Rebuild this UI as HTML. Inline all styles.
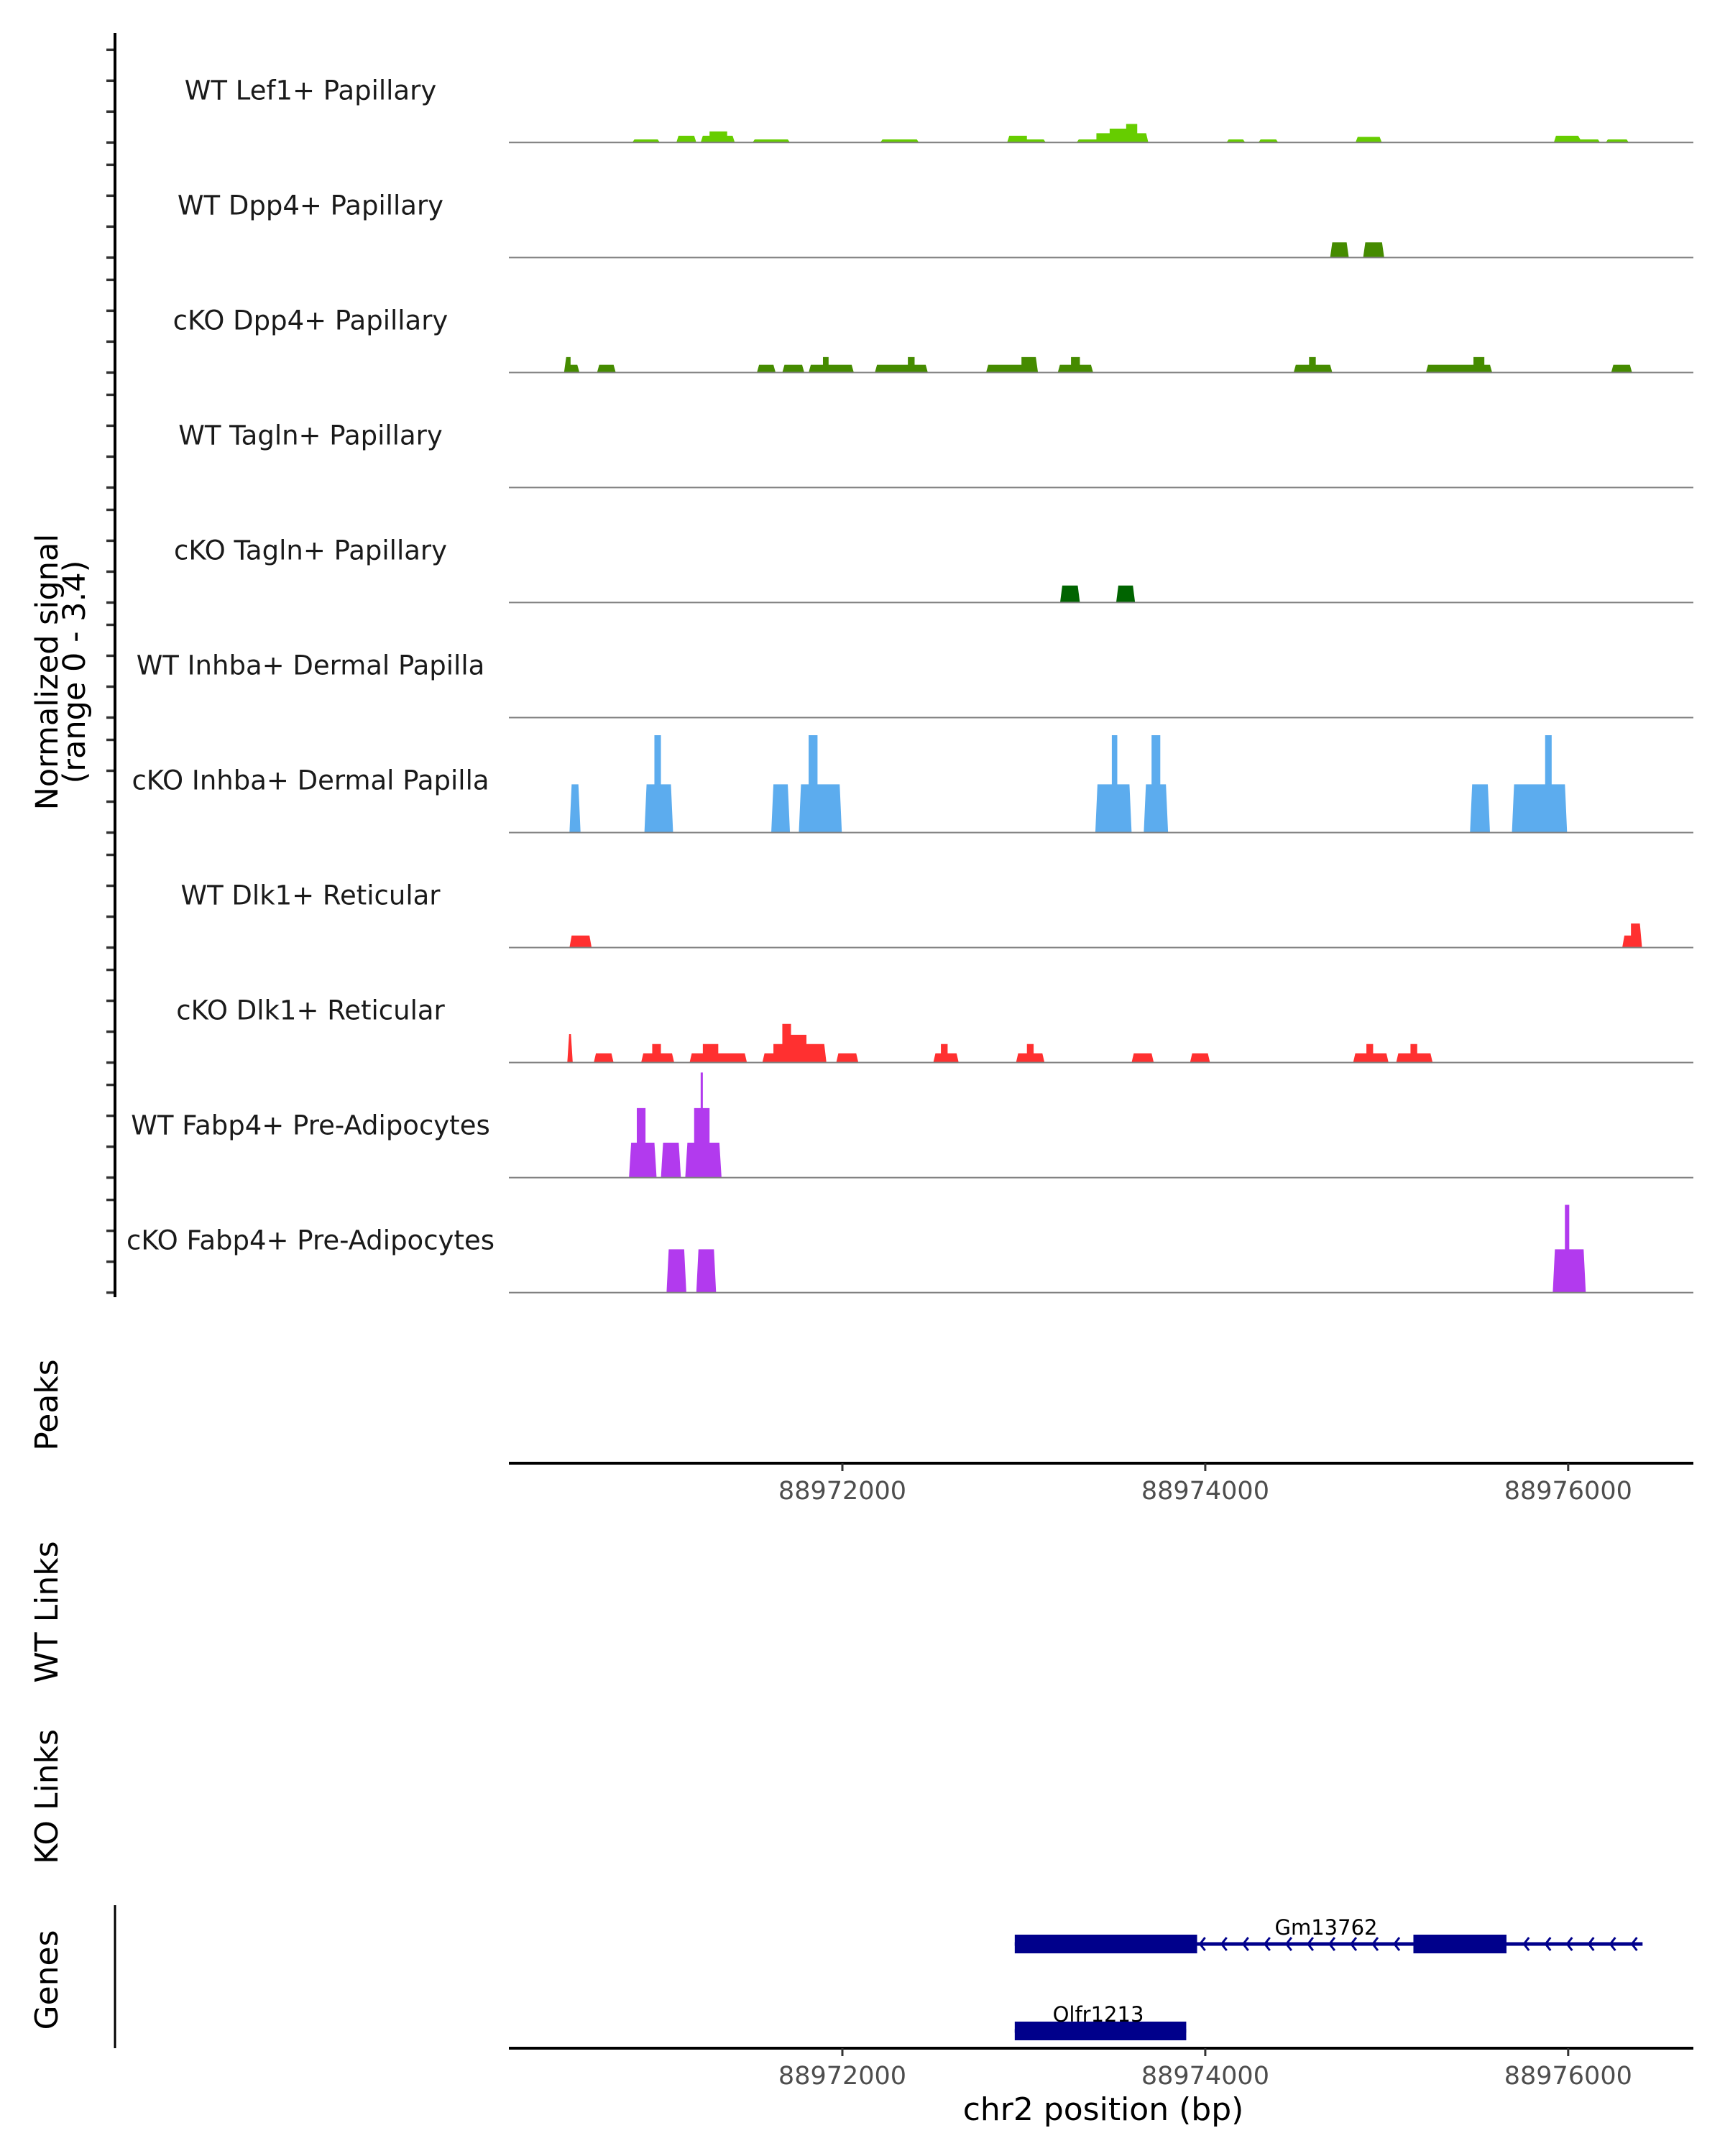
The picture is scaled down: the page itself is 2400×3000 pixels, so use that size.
<!DOCTYPE html>
<html><head><meta charset="utf-8"><style>
html,body{margin:0;padding:0;background:#fff;}
svg{display:block;font-family:"DejaVu Sans","Liberation Sans",sans-serif;}
</style></head><body>
<svg id="chart" width="2400" height="3000" viewBox="0 0 2400 3000" xmlns="http://www.w3.org/2000/svg">
<g id="tracks"></g>
<g id="axes"></g>
<g id="genes"></g>
</svg>
<script>
// ---------- data ----------
const trackNames = ["WT Lef1+ Papillary","WT Dpp4+ Papillary","cKO Dpp4+ Papillary","WT Tagln+ Papillary","cKO Tagln+ Papillary","WT Inhba+ Dermal Papilla","cKO Inhba+ Dermal Papilla","WT Dlk1+ Reticular","cKO Dlk1+ Reticular","WT Fabp4+ Pre-Adipocytes","cKO Fabp4+ Pre-Adipocytes"];
const trackColors = ["#66cd00","#458b00","#458b00","#006400","#006400","#5cacee","#5cacee","#ff3030","#ff3030","#b23aee","#b23aee"];
const yMax = 3.4;
const yTicks = [0,1,2,3];
const xTicks = [88972000,88974000,88976000];
// segments: [start bp, end bp, signal]
const sigLef1WT = [[88970842,88970994,.1],[88971085,88971195,.22],[88971219,88971268,.22],[88971268,88971365,.36],[88971365,88971407,.22],[88971505,88971711,.1],[88972209,88972422,.1],[88972908,88973017,.22],[88973017,88973121,.1],[88973291,88973400,.1],[88973400,88973473,.3],[88973473,88973564,.45],[88973564,88973625,.6],[88973625,88973686,.3],[88974117,88974220,.1],[88974293,88974402,.1],[88974828,88974973,.18],[88975921,88976055,.22],[88976067,88976176,.1],[88976207,88976334,.1]];
const sigDpp4WT = [[88974688,88974791,.49],[88974870,88974986,.49]];
const sigDpp4KO = [[88970466,88970502,.5],[88970502,88970551,.25],[88970648,88970751,.25],[88971529,88971632,.25],[88971669,88971790,.25],[88971814,88971893,.25],[88971893,88971924,.5],[88971924,88972063,.25],[88972179,88972276,.25],[88972288,88972361,.25],[88972361,88972398,.5],[88972398,88972471,.25],[88972792,88972908,.25],[88972908,88972987,.25],[88972987,88973078,.5],[88973187,88973260,.25],[88973260,88973309,.5],[88973309,88973382,.25],[88974487,88974572,.25],[88974572,88974609,.5],[88974609,88974700,.25],[88975216,88975478,.25],[88975478,88975538,.5],[88975538,88975581,.25],[88976237,88976352,.25]];
const sigTaglnWT = [];
const sigTaglnKO = [[88973200,88973309,.55],[88973509,88973613,.55]];
const sigInhbaWT = [];
const sigInhbaKO = [[88970496,88970557,1.56],[88970909,88970964,1.56],[88970964,88971000,3.15],[88971000,88971067,1.56],[88971608,88971711,1.56],[88971760,88971814,1.56],[88971814,88971863,3.15],[88971863,88971997,1.56],[88973394,88973485,1.56],[88973485,88973515,3.15],[88973515,88973594,1.56],[88973661,88973704,1.56],[88973704,88973752,3.15],[88973752,88973795,1.56],[88975459,88975569,1.56],[88975690,88975873,1.56],[88975873,88975909,3.15],[88975909,88975994,1.56]];
const sigDlk1WT = [[88970496,88970618,.39],[88976298,88976346,.39],[88976346,88976407,.78]];
const sigDlk1KO = [[88970484,88970514,.92],[88970630,88970739,.3],[88970891,88970952,.3],[88970952,88971000,.6],[88971000,88971073,.3],[88971158,88971231,.3],[88971231,88971316,.6],[88971316,88971474,.3],[88971559,88971620,.3],[88971620,88971669,.6],[88971669,88971717,1.25],[88971717,88971802,.9],[88971802,88971912,.6],[88971966,88972088,.3],[88972501,88972543,.3],[88972543,88972580,.6],[88972580,88972641,.3],[88972957,88973017,.3],[88973017,88973054,.6],[88973054,88973114,.3],[88973594,88973716,.3],[88973916,88974026,.3],[88974815,88974888,.3],[88974888,88974925,.6],[88974925,88975010,.3],[88975052,88975131,.3],[88975131,88975168,.6],[88975168,88975253,.3]];
const sigFabp4WT = [[88970824,88970867,1.13],[88970867,88970915,2.25],[88970915,88970976,1.13],[88971000,88971110,1.13],[88971134,88971183,1.13],[88971183,88971219,2.25],[88971219,88971231,3.4],[88971231,88971268,2.25],[88971268,88971334,1.13]];
const sigFabp4KO = [[88971031,88971140,1.4],[88971195,88971304,1.4],[88975915,88975982,1.4],[88975982,88976006,2.84],[88976006,88976097,1.4]];
const trackSignals = [sigLef1WT,sigDpp4WT,sigDpp4KO,sigTaglnWT,sigTaglnKO,sigInhbaWT,sigInhbaKO,sigDlk1WT,sigDlk1KO,sigFabp4WT,sigFabp4KO];
const geneNames = ["Gm13762","Olfr1213"];
const geneStarts = [88972950,88972950];
const geneEnds = [88976410,88973895];
const geneExons = [[[88972950,88973955],[88975147,88975660]],[[88972950,88973895]]];

// ---------- layout ----------
const NS="http://www.w3.org/2000/svg";
const plotL=708, plotR=2356, domL=88970162, domR=88976690;
const xs = b => plotL + (b-domL)*(plotR-plotL)/(domR-domL);
const base0=198.3, trackH=160.03, pxPerUnit=43;
const ys = (i,v) => base0 + i*trackH - v*pxPerUnit;
function mk(tag, attrs, parent){const e=document.createElementNS(NS,tag);for(const k in attrs)e.setAttribute(k,attrs[k]);parent.appendChild(e);return e;}
const gT=document.getElementById('tracks'), gA=document.getElementById('axes'), gG=document.getElementById('genes');

trackNames.forEach((name,i)=>{
  const b=ys(i,0);
  const g=mk('g',{},gT);
  
  
  const t=mk('text',{x:432,y:b-60,'text-anchor':'middle','font-size':37,fill:'#1a1a1a'},g);
  t.textContent=name;
  
  
  const segs=trackSignals[i].slice().sort((a,c)=>a[0]-c[0]);
  const groups=[];
  segs.forEach(s=>{
    const last=groups[groups.length-1];
    if(last && s[0]-last[last.length-1][1] < 15) last.push(s); else groups.push([s]);
  });
  groups.forEach(gr=>{
    const pts=[];
    gr.forEach((s,k)=>{
      let x0=xs(s[0]), x1=xs(s[1]); const yt=ys(i,s[2]);
      const tp=Math.min(3,(x1-x0)/3);
      if(k===0){pts.push(`${x0},${b}`); x0+=tp;}
      if(k===gr.length-1){x1-=tp;}
      pts.push(`${x0},${yt}`); pts.push(`${x1},${yt}`);
      if(k===gr.length-1) pts.push(`${xs(s[1])},${b}`);
    });
    const p=mk('polygon',{points:pts.join(' '),fill:trackColors[i]},g);
    
    
  });
  const l=mk('line',{x1:plotL,x2:plotR,y1:b,y2:b,stroke:'#7f7f7f','stroke-width':2},g);
  
  
  yTicks.forEach(v=>{
    const tk=mk('line',{x1:148,x2:160,y1:ys(i,v),y2:ys(i,v),stroke:'#333','stroke-width':3.5},gA);
    
    
  });
});
let e=mk('line',{x1:160,x2:160,y1:46,y2:1805,stroke:'#000','stroke-width':4},gA);


e=mk('text',{transform:'translate(80,935) rotate(-90)','text-anchor':'middle','font-size':43,fill:'#000'},gA);
e.innerHTML='<tspan x="0" dy="0">Normalized signal</tspan><tspan x="0" dy="38">(range 0 - 3.4)</tspan>';


[["Peaks",1955],["WT Links",2243],["KO Links",2500],["Genes",2755]].forEach(([n,y])=>{
  const t=mk('text',{transform:`translate(80,${y}) rotate(-90)`,'text-anchor':'middle','font-size':44,fill:'#000'},gA);
  t.textContent=n;
  
  
});
[[2036,2086,'peaks-x-axis'],[2850,2900,'genes-x-axis']].forEach(([y,ly,nm])=>{
  const l=mk('line',{x1:plotL,x2:plotR,y1:y,y2:y,stroke:'#000','stroke-width':4},gA);
  
  
  xTicks.forEach(v=>{
    const tk=mk('line',{x1:xs(v),x2:xs(v),y1:y,y2:y+11,stroke:'#333','stroke-width':3},gA);
    
    
    const tl=mk('text',{x:xs(v),y:ly,'text-anchor':'middle','font-size':35,fill:'#4d4d4d'},gA);
    tl.textContent=v;
    
    
  });
});
e=mk('line',{x1:160,x2:160,y1:2651,y2:2850,stroke:'#000','stroke-width':3},gA);


e=mk('text',{x:1535,y:2950,'text-anchor':'middle','font-size':44,fill:'#000'},gA);
e.textContent='chr2 position (bp)';


const geneY=[2705,2826];
geneNames.forEach((n,i)=>{
  const g=mk('g',{},gG);
  
  
  const y=geneY[i];
  mk('line',{x1:xs(geneStarts[i]),x2:xs(geneEnds[i]),y1:y,y2:y,stroke:'#00008b','stroke-width':5},g);
  if(i===0){
    for(let b=geneStarts[i]+200;b<geneEnds[i]-40;b+=119){
      const x=xs(b);
      const inEx=geneExons[i].some(ex=>b>ex[0]-20&&b<ex[1]+20);
      if(inEx) continue;
      const c=mk('polyline',{points:`${x+4},${y-9} ${x-3},${y} ${x+4},${y+9}`,fill:'none',stroke:'#00008b','stroke-width':3},g);
      
      
    }
  }
  geneExons[i].forEach(ex=>{
    const r=mk('rect',{x:xs(ex[0]),y:y-13,width:xs(ex[1])-xs(ex[0]),height:26,fill:'#00008b'},g);
    
    
  });
  const cx=i===0?1845:1528, ly=i===0?2692:2813;
  const t=mk('text',{x:cx,y:ly,'text-anchor':'middle','font-size':29,fill:'#000'},g);
  t.textContent=n;
  
  
});
</script>
</body></html>
